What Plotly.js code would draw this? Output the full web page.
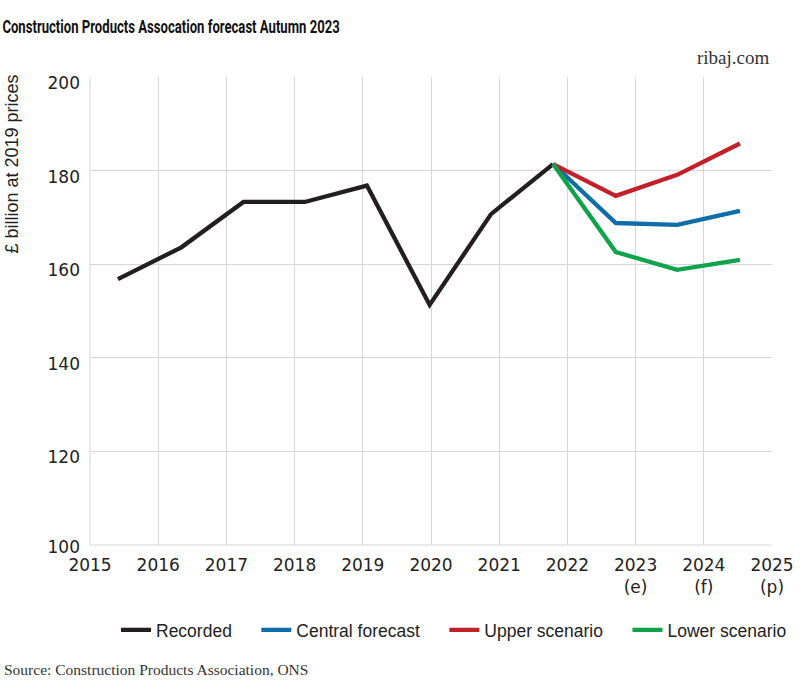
<!DOCTYPE html>
<html>
<head>
<meta charset="utf-8">
<script src="https://cdn.plot.ly/plotly-3.0.1.min.js"></script>
<style>html,body{margin:0;padding:0;background:#fff;}#chart{width:800px;height:683px;}</style>
</head>
<body>
<div id="chart"></div>
<script>
// Data
const recordedX = [2015.41, 2016.34, 2017.25, 2018.15, 2019.06, 2019.98, 2020.88, 2021.79];
const recordedY = [156.8, 163.6, 173.3, 173.3, 176.8, 151.3, 170.7, 181.4];
const forecastX = [2021.79, 2022.71, 2023.61, 2024.53];
const centralY = [181.4, 168.8, 168.4, 171.4];
const upperY = [181.4, 174.6, 179.1, 185.8];
const lowerY = [181.4, 162.6, 158.8, 160.9];
const seriesNames = ['Recorded', 'Central forecast', 'Upper scenario', 'Lower scenario'];
const tickYears = [2015, 2016, 2017, 2018, 2019, 2020, 2021, 2022, 2023, 2024, 2025];
const tickLabels = ['2015', '2016', '2017', '2018', '2019', '2020', '2021', '2022', '2023<br>(e)', '2024<br>(f)', '2025<br>(p)'];
const yTicksUpper = [120, 140, 160, 180, 200];
const yTicksBase = [100];
const yRange = [100, 200];

const pad = '\u00A0\u00A0\u00A0\u00A0';
const lw = 4.3;
const traces = [
  {x: recordedX, y: recordedY, name: seriesNames[0] + pad, mode: 'lines', line: {color: '#231f20', width: lw}},
  {x: forecastX, y: centralY, name: seriesNames[1] + pad, mode: 'lines', line: {color: '#0f6ea8', width: lw}},
  {x: forecastX, y: upperY, name: seriesNames[2] + pad, mode: 'lines', line: {color: '#c2202b', width: lw}},
  // drawn on an overlaid axis with the identical range (it carries the lowest tick label)
  {x: forecastX, y: lowerY, name: seriesNames[3], mode: 'lines', yaxis: 'y2', line: {color: '#11a34c', width: lw}}
];

const sans = 'Liberation Sans, Arial, sans-serif';
const tickSans = 'DejaVu Sans, Liberation Sans, sans-serif';
const serif = 'Liberation Serif, DejaVu Serif, serif';
const tickFont = {family: tickSans, size: 17, color: '#222'};
const layout = {
  width: 800, height: 683,
  margin: {l: 90, r: 28, t: 77, b: 138},
  paper_bgcolor: '#fff', plot_bgcolor: '#fff',
  title: {
    text: 'Construction Products Assocation forecast Autumn 2023',
    font: {family: 'Roboto, Liberation Sans, sans-serif', size: 17.5, color: '#111', weight: 700},
    x: 0.003, xanchor: 'left', xref: 'container', yref: 'container', y: 1 - 26.5 / 683, yanchor: 'middle'
  },
  xaxis: {
    range: [2015, 2025], tickvals: tickYears, ticktext: tickLabels,
    showgrid: true, gridcolor: '#d6d6d6', gridwidth: 1,
    showline: false, zeroline: false, ticks: '', ticklabelstandoff: 8,
    tickfont: tickFont, fixedrange: true
  },
  yaxis: {
    range: yRange, tickvals: yTicksUpper,
    showgrid: true, gridcolor: '#d6d6d6', gridwidth: 1,
    showline: false, zeroline: false, ticks: '', ticklabelstandoff: 9, ticklabelshift: 6,
    tickfont: tickFont, fixedrange: true
  },
  yaxis2: {
    range: yRange, tickvals: yTicksBase, overlaying: 'y', side: 'left', anchor: 'x',
    showgrid: false, showline: false, zeroline: false, ticks: '', ticklabelstandoff: 9, ticklabelshift: 2,
    tickfont: tickFont, fixedrange: true
  },
  shapes: [
    {type: 'line', xref: 'paper', yref: 'paper', x0: 0, x1: 0, y0: 0, y1: 1, line: {color: '#d6d6d6', width: 1}},
    {type: 'line', xref: 'paper', yref: 'paper', x0: 0, x1: 1, y0: 0, y1: 0, line: {color: '#d6d6d6', width: 1}}
  ],
  showlegend: true,
  legend: {
    orientation: 'h', xref: 'container', x: 116 / 800, xanchor: 'left',
    yref: 'container', y: 1 - 630 / 683, yanchor: 'middle',
    font: {family: sans, size: 17.5, color: '#222'}, itemwidth: 30, tracegroupgap: 0
  },
  annotations: [
    {text: 'ribaj.com', xref: 'paper', yref: 'paper', x: 1, xanchor: 'right', y: (545 - 58) / 468, yanchor: 'middle',
     showarrow: false, font: {family: serif, size: 19, color: '#333'}},
    {text: '£ billion at 2019 prices', xref: 'paper', yref: 'paper', x: (11 - 90) / 682, xanchor: 'center', y: (545 - 73) / 468, yanchor: 'top',
     textangle: -90, showarrow: false, font: {family: sans, size: 18, color: '#222'}},
    {text: 'Source: Construction Products Association, ONS', xref: 'paper', yref: 'paper', x: (2 - 90) / 682, xanchor: 'left', y: -(669 - 545) / 468, yanchor: 'middle',
     showarrow: false, font: {family: serif, size: 15.5, color: '#333'}}
  ]
};

Plotly.newPlot('chart', traces, layout, {displayModeBar: false, staticPlot: true}).then(function (gd) {
  // condense the title horizontally to match the narrow headline face
  const t = gd.querySelector('.gtitle');
  if (t) {
    const x = parseFloat(t.getAttribute('x')) || 0;
    const s = 0.75;
    t.setAttribute('transform', 'translate(' + (x * (1 - s)) + ',0) scale(' + s + ',1)');
  }
});
</script>
</body>
</html>
